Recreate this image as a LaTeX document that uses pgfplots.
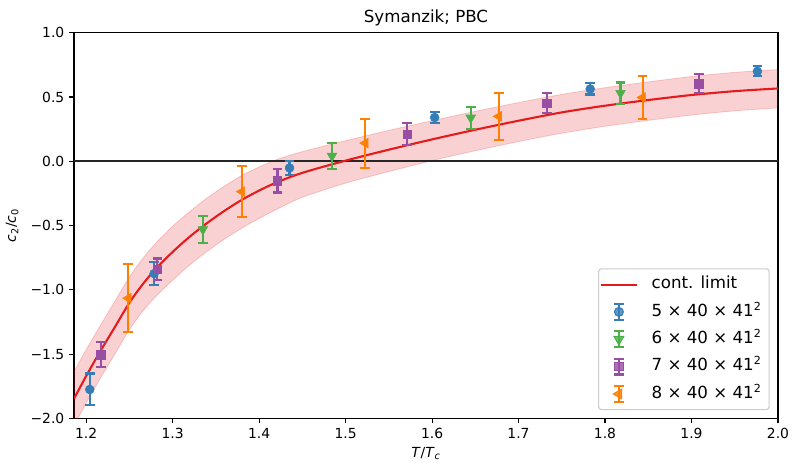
\documentclass[border=0pt]{standalone}
\usepackage{fontspec}
\setmainfont{DejaVu Sans}[ItalicFont={DejaVu Sans Oblique},BoldFont={DejaVu Sans Bold}]
\usepackage{pgfplots}
\usepackage{pgfplotstable}
\pgfplotsset{compat=1.18}
\usepgfplotslibrary{fillbetween}
\definecolor{cblue}{HTML}{377EB8}
\definecolor{cgreen}{HTML}{4DAF4A}
\definecolor{cpurple}{HTML}{984EA3}
\definecolor{corange}{HTML}{FF7F00}
\definecolor{cred}{HTML}{E41A1C}

\pgfplotstableread{
T y up lo
1.186 -1.845 -1.635 -2.055
1.200 -1.670 -1.465 -1.880
1.217 -1.470 -1.270 -1.680
1.234 -1.280 -1.080 -1.490
1.250 -1.100 -0.900 -1.310
1.265 -0.960 -0.760 -1.170
1.280 -0.840 -0.640 -1.055
1.300 -0.705 -0.505 -0.925
1.320 -0.585 -0.390 -0.805
1.340 -0.480 -0.285 -0.700
1.360 -0.385 -0.193 -0.605
1.380 -0.300 -0.110 -0.520
1.400 -0.228 -0.045 -0.445
1.420 -0.165 0.012 -0.375
1.450 -0.090 0.075 -0.280
1.500 0.005 0.160 -0.170
1.550 0.090 0.240 -0.080
1.600 0.170 0.315 0.005
1.650 0.245 0.388 0.082
1.700 0.315 0.456 0.153
1.750 0.380 0.520 0.218
1.800 0.432 0.572 0.272
1.850 0.476 0.617 0.318
1.900 0.515 0.659 0.359
1.950 0.545 0.691 0.392
2.000 0.566 0.713 0.415
}\fitdata

\pgfplotstableread{
T y e
1.2042 -1.774 0.124
1.2786 -0.873 0.087
1.4352 -0.052 0.053
1.6030 0.340 0.043
1.7829 0.562 0.043
1.9762 0.699 0.038
}\dataA

\pgfplotstableread{
T y e
1.3350 -0.530 0.105
1.4843 0.041 0.101
1.6447 0.338 0.084
1.8179 0.530 0.082
}\dataB

\pgfplotstableread{
T y e
1.2169 -1.503 0.095
1.2824 -0.840 0.084
1.4213 -0.151 0.092
1.5714 0.211 0.087
1.7326 0.453 0.078
1.9086 0.603 0.073
}\dataC

\pgfplotstableread{
T y e
1.2488 -1.064 0.264
1.3801 -0.236 0.197
1.5228 0.141 0.190
1.6771 0.349 0.185
1.8434 0.496 0.164
}\dataD

\pgfplotsset{
  errstyle/.style={only marks,
    error bars/y dir=both, error bars/y explicit,
    error bars/error bar style={line width=1.5pt, solid},
    error bars/error mark options={rotate=90, mark size=3.5pt, line width=1.5pt}},
  errlegend/.style={legend image code/.code={
    \path (0cm,0cm) (1.1cm,0cm);
    \draw[##1, mark=none, line width=1.5pt] (0.465cm,-0.2cm) -- (0.465cm,0.2cm)
       (0.342cm,-0.2cm) -- (0.588cm,-0.2cm) (0.342cm,0.2cm) -- (0.588cm,0.2cm);
    \draw[##1, only marks] plot coordinates {(0.465cm,0cm)};
  }},
  lineleg/.style={legend image code/.code={\path (0cm,0cm) (1.1cm,0cm); \draw[##1] (0cm,0cm) -- (0.93cm,0cm);}},
}

\begin{document}
\begin{tikzpicture}
\begin{axis}[
  scale only axis, width=506.9pt, height=277.9pt,
  xmin=1.186, xmax=2.0, ymin=-2, ymax=1,
  xtick={1.2,1.3,1.4,1.5,1.6,1.7,1.8,1.9,2.0},
  xticklabels={1.2,1.3,1.4,1.5,1.6,1.7,1.8,1.9,2.0},
  ytick={-2,-1.5,-1,-0.5,0,0.5,1},
  yticklabels={−2.0,−1.5,−1.0,−0.5,0.0,0.5,1.0},
  tick align=outside, xtick pos=bottom, ytick pos=left,
  major tick length=3.5pt,
  tick style={black, line width=0.8pt},
  axis line style={line width=0.8pt},
  tick label style={font=\fontsize{10}{12}\selectfont},
  title={Symanzik; PBC},
  title style={font=\fontsize{12}{14}\selectfont, at={(axis description cs:0.5,1.026)}, anchor=base, yshift=-6pt},
  xlabel={\textit{T}/\textit{T}\textsubscript{\textit{c}}},
  xlabel style={font=\fontsize{10}{12}\selectfont, at={(axis description cs:0.5,-0.1008)}, anchor=base},
  ylabel={\textit{c}\textsubscript{2}/\textit{c}\textsubscript{0}},
  ylabel style={font=\fontsize{10}{12}\selectfont, at={(axis description cs:-0.088,0.5)}, anchor=center},
  legend cell align=left,
  legend style={at={(axis description cs:1,0)}, anchor=south east, xshift=-6pt, yshift=6pt,
    draw=black!20, line width=0.8pt, rounded corners=2pt, fill=white, fill opacity=0.8, text opacity=1,
    font=\fontsize{12}{14.4}\selectfont, inner xsep=0.6pt, inner ysep=4.8pt, row sep=6.7pt,
    nodes={inner ysep=0pt, inner xsep=4.8pt, text height=9.5pt, text depth=3.5pt}},
]
\addplot[name path=up, draw=cred, draw opacity=0.2, line width=0.6pt, smooth, forget plot] table[x=T,y=up]{\fitdata};
\addplot[name path=lo, draw=cred, draw opacity=0.2, line width=0.6pt, smooth, forget plot] table[x=T,y=lo]{\fitdata};
\addplot[fill=cred, fill opacity=0.2, draw=none, forget plot] fill between[of=up and lo];
\addplot[black!85, line width=1.2pt, forget plot] coordinates {(1.1,0) (2.1,0)};
\addplot[cred, line width=1.5pt, smooth, lineleg] table[x=T,y=y]{\fitdata};
\addlegendentry{cont. limit}
\addplot[errstyle, errlegend, color=cblue, mark=*, mark size=3.2pt, mark options={fill=cblue, draw=cblue}] table[x=T,y=y,y error=e]{\dataA};
\addlegendentry{5 × 40 × 41\textsuperscript{2}}
\addplot[errstyle, errlegend, color=cgreen, mark=triangle*, mark size=4pt, mark options={rotate=180, fill=cgreen, draw=cgreen}] table[x=T,y=y,y error=e]{\dataB};
\addlegendentry{6 × 40 × 41\textsuperscript{2}}
\addplot[errstyle, errlegend, color=cpurple, mark=square*, mark size=3pt, mark options={fill=cpurple, draw=cpurple}] table[x=T,y=y,y error=e]{\dataC};
\addlegendentry{7 × 40 × 41\textsuperscript{2}}
\addplot[errstyle, errlegend, color=corange, mark=triangle*, mark size=4pt, mark options={rotate=90, fill=corange, draw=corange}] table[x=T,y=y,y error=e]{\dataD};
\addlegendentry{8 × 40 × 41\textsuperscript{2}}
\end{axis}
\pgfresetboundingbox
\path ([xshift=-53.3pt,yshift=-31.9pt]current axis.south west) rectangle ([xshift=10.1pt,yshift=23.5pt]current axis.north east);
\end{tikzpicture}
\end{document}
